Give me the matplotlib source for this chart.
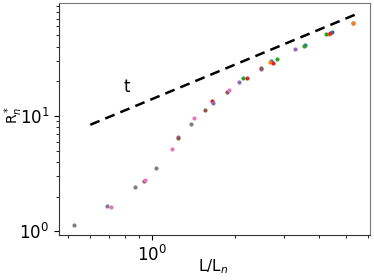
import matplotlib
matplotlib.use("Agg")
import matplotlib.pyplot as plt
import numpy as np

# series (tab10 colours C0..C7)
blue_x = [2.685, 3.568, 4.465, 5.33]
blue_y = [30.2, 41.5, 53.2, 64.4]
orange_x = [2.662, 4.355, 5.33]
orange_y = [29.2, 51.8, 64.4]
green_x = [2.133, 2.836, 3.538, 4.247]
green_y = [21.4, 31.2, 40.5, 51.1]
red_x = [1.645, 2.199, 2.743, 4.39]
red_y = [13.57, 21.5, 28.6, 52.1]
purple_x = [1.244, 1.658, 2.069, 2.477, 3.284]
purple_y = [6.57, 13.04, 19.6, 25.7, 38.1]
brown_x = [0.936, 1.247, 1.556, 1.868, 2.477]
brown_y = [2.715, 6.41, 11.34, 16.05, 26.2]
pink_x = [0.713, 0.948, 1.184, 1.420, 1.895]
pink_y = [1.615, 2.786, 5.14, 9.55, 16.7]
gray_x = [0.522, 0.692, 0.871, 1.039, 1.385]
gray_y = [1.134, 1.667, 2.42, 3.56, 8.47]

# reference line y = a * x
line_x = [0.6, 5.42]
line_coef = 14.0
line_label = "t"

fig = plt.figure(figsize=(3.74, 2.8), dpi=100)
ax = fig.add_axes([0.158, 0.161, 0.831, 0.827])

series = [(blue_x, blue_y, "C0"), (orange_x, orange_y, "C1"), (green_x, green_y, "C2"),
          (red_x, red_y, "C3"), (purple_x, purple_y, "C4"), (brown_x, brown_y, "C5"),
          (pink_x, pink_y, "C6"), (gray_x, gray_y, "C7")]
for xs, ys, c in series:
    ax.scatter(xs, ys, s=9, color=c, zorder=3, linewidths=0)

lx = np.array(line_x)
ax.plot(lx, line_coef * lx, "k--", lw=1.8, dashes=(4, 2.5))
ax.text(0.79, 17.7, line_label, fontsize=12, va="center", ha="left")

ax.set_xscale("log")
ax.set_yscale("log")
ax.set_xlim(0.463, 6.12)
ax.set_ylim(0.93, 95)
ax.set_xlabel("L/L$_n$", fontsize=11)
ax.set_ylabel("R$^*_n$", fontsize=10)
ax.xaxis.set_label_coords(0.495, -0.095)
yl = ax.yaxis.label
yl.set_rotation_mode("default")
yl.set_horizontalalignment("left")
yl.set_verticalalignment("center")
ax.yaxis.set_label_coords(-0.181, 0.52)
ax.tick_params(labelsize=12)
for s in ax.spines.values():
    s.set_color("#777777")
ax.spines["left"].set_color("#333333")
ax.spines["bottom"].set_color("#333333")

fig.savefig("out.png", dpi=100)
